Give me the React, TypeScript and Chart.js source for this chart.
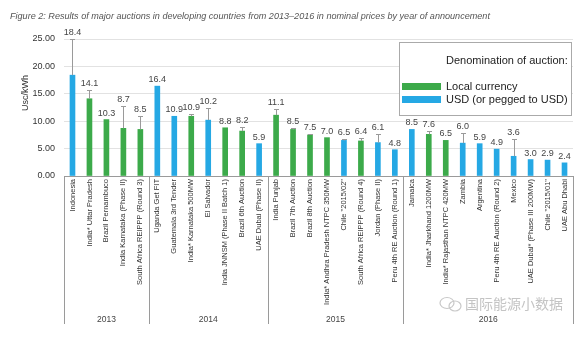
import React, { useEffect, useRef } from 'react';
import { Chart, registerables } from 'chart.js';

Chart.register(...registerables);

const TITLE =
  'Figure 2: Results of major auctions in developing countries from 2013\u20132016 in nominal prices by year of announcement';
const Y_TITLE = 'Usc/kWh';
const WATERMARK = '国际能源小数据';

const categories = [
  'Indonesia',
  'India* Uttar Pradesh',
  'Brazil Pernambuco',
  'India Karnataka (Phase II)',
  'South Africa REIPPP (Round 3)',
  'Uganda Get FIT',
  'Guatemala 3rd Tender',
  'India* Karnataka 500MW',
  'El Salvador',
  'India JNNSM (Phase II Batch 1)',
  'Brazil 6th Auction',
  'UAE Dubai (Phase II)',
  'India Punjab',
  'Brazil 7th Auction',
  'Brazil 8th Auction',
  'India* Andhra Pradesh NTPC 350MW',
  'Chile "2015/02"',
  'South Africa REIPPP (Round 4)',
  'Jordan (Phase II)',
  'Peru 4th RE Auction (Round 1)',
  'Jamaica',
  'India* Jharkhand 1200MW',
  'India* Rajasthan NTPC 420MW',
  'Zambia',
  'Argentina',
  'Peru 4th RE Auction (Round 2)',
  'Mexico',
  'UAE Dubai* (Phase III 200MW)',
  'Chile "2015/01"',
  'UAE Abu Dhabi',
];

const values = [
  18.4, 14.1, 10.3, 8.7, 8.5,
  16.4, 10.9, 10.9, 10.2, 8.8, 8.2, 5.9,
  11.1, 8.5, 7.5, 7.0, 6.5, 6.4, 6.1, 4.8,
  8.5, 7.6, 6.5, 6.0, 5.9, 4.9, 3.6, 3.0, 2.9, 2.4,
];

const errorHighs: (number | null)[] = [
  25.0, 15.7, null, 12.7, 10.9,
  null, null, 11.4, 12.4, null, 9.0, null,
  12.3, 8.8, 7.7, null, 6.7, 6.9, 7.6, null,
  null, 8.3, null, 7.8, null, null, 6.7, null, null, null,
];

// L = local currency, U = USD (or pegged to USD)
const denominations = [
  'U', 'L', 'L', 'L', 'L',
  'U', 'U', 'L', 'U', 'L', 'L', 'U',
  'L', 'L', 'L', 'L', 'U', 'L', 'U', 'U',
  'U', 'L', 'L', 'U', 'U', 'U', 'U', 'U', 'U', 'U',
];

const years = ['2013', '2014', '2015', '2016'];
const yearCounts = [5, 7, 8, 10];

const legendTitle = 'Denomination of auction:';
const legendLabels = ['Local currency', 'USD (or pegged to USD)'];

const yMin = 0;
const yMax = 25;
const yStep = 5;

const GREEN = '#3caa4a';
const BLUE = '#25a8e4';
const colorFor = (d: string) => (d === 'L' ? GREEN : BLUE);

const overlayPlugin = {
  id: 'overlay',
  afterDatasetsDraw(chart: any) {
    const ctx = chart.ctx;
    const xs = chart.scales.x;
    const ys = chart.scales.y;
    ctx.save();
    // error bars
    ctx.strokeStyle = '#9a9a9a';
    ctx.lineWidth = 1;
    errorHighs.forEach((e, i) => {
      if (e == null) return;
      const x = Math.round(xs.getPixelForValue(i)) + 0.5;
      const y0 = ys.getPixelForValue(values[i]);
      const y1 = Math.round(ys.getPixelForValue(e)) + 0.5;
      ctx.beginPath();
      ctx.moveTo(x, y0);
      ctx.lineTo(x, y1);
      ctx.moveTo(x - 2.5, y1);
      ctx.lineTo(x + 2.5, y1);
      ctx.stroke();
    });
    // value labels
    ctx.fillStyle = '#444';
    ctx.font = '9px "Liberation Sans", Arial, sans-serif';
    ctx.textAlign = 'center';
    ctx.textBaseline = 'middle';
    values.forEach((v, i) => {
      const top = Math.max(v, errorHighs[i] ?? v);
      const x = xs.getPixelForValue(i);
      const y = ys.getPixelForValue(top) - 6.5;
      ctx.fillText(v.toFixed(1), x, y);
    });
    ctx.restore();
  },
  afterDraw(chart: any) {
    const ctx = chart.ctx;
    const xs = chart.scales.x;
    const area = chart.chartArea;
    ctx.save();

    // group separators and year labels
    const n = categories.length;
    const step = (xs.right - xs.left) / n;
    const yTop = area.bottom;
    const yBot = area.bottom + 148;
    ctx.strokeStyle = '#9a9a9a';
    ctx.lineWidth = 1;
    let start = 0;
    const bounds: number[] = [xs.left];
    yearCounts.forEach((c) => {
      start += c;
      bounds.push(xs.left + step * start);
    });
    bounds.forEach((bx) => {
      const x = Math.round(bx) + 0.5;
      ctx.beginPath();
      ctx.moveTo(x, yTop);
      ctx.lineTo(x, yBot);
      ctx.stroke();
    });
    ctx.fillStyle = '#444';
    ctx.font = '8.5px "Liberation Sans", Arial, sans-serif';
    ctx.textAlign = 'center';
    ctx.textBaseline = 'middle';
    years.forEach((yr, k) => {
      ctx.fillText(yr, (bounds[k] + bounds[k + 1]) / 2, area.bottom + 144);
    });

    // title
    ctx.fillStyle = '#555';
    ctx.textAlign = 'left';
    ctx.textBaseline = 'middle';
    let fs = 11;
    ctx.font = `italic ${fs}px "Liberation Sans", Arial, sans-serif`;
    const w = ctx.measureText(TITLE).width;
    fs = (fs * 480) / w;
    ctx.font = `italic ${fs}px "Liberation Sans", Arial, sans-serif`;
    ctx.fillText(TITLE, 10, 16);

    // y title
    ctx.save();
    ctx.translate(26, 93);
    ctx.rotate(-Math.PI / 2);
    ctx.fillStyle = '#333';
    ctx.font = '9px "Liberation Sans", Arial, sans-serif';
    ctx.textAlign = 'center';
    ctx.textBaseline = 'middle';
    ctx.fillText(Y_TITLE, 0, 0);
    ctx.restore();

    // legend box
    const lx = 399.5;
    const ly = 42.5;
    const lw = 172;
    const lh = 73;
    ctx.fillStyle = '#fff';
    ctx.fillRect(lx, ly, lw, lh);
    ctx.strokeStyle = '#aaa';
    ctx.strokeRect(lx, ly, lw, lh);
    ctx.fillStyle = '#222';
    ctx.font = '11px "Liberation Sans", Arial, sans-serif';
    ctx.textAlign = 'left';
    ctx.textBaseline = 'middle';
    ctx.fillText(legendTitle, 446, 61);
    ctx.fillStyle = GREEN;
    ctx.fillRect(402, 83, 39, 7);
    ctx.fillStyle = BLUE;
    ctx.fillRect(402, 96, 39, 7);
    ctx.fillStyle = '#222';
    ctx.fillText(legendLabels[0], 446, 87);
    ctx.fillText(legendLabels[1], 446, 100);

    // watermark
    ctx.strokeStyle = '#c8c8c8';
    ctx.lineWidth = 1.2;
    ctx.beginPath();
    ctx.ellipse(447, 303, 7, 5.5, 0, 0, Math.PI * 2);
    ctx.stroke();
    ctx.beginPath();
    ctx.ellipse(455, 306, 6, 5, 0, 0, Math.PI * 2);
    ctx.stroke();
    ctx.fillStyle = '#c4c4c4';
    ctx.font = '14px "Noto Sans CJK SC", sans-serif';
    ctx.textAlign = 'left';
    ctx.fillText(WATERMARK, 465, 304);

    ctx.restore();
  },
};

export default function App() {
  const ref = useRef<HTMLCanvasElement | null>(null);
  useEffect(() => {
    if (!ref.current) return;
    const chart = new Chart(ref.current, {
      type: 'bar',
      data: {
        labels: categories,
        datasets: [
          {
            data: values,
            backgroundColor: denominations.map(colorFor),
            barThickness: 5,
          },
        ],
      },
      options: {
        animation: false,
        responsive: true,
        maintainAspectRatio: false,
        devicePixelRatio: 1,
        layout: { padding: { top: 39, right: 7, left: 0, bottom: 0 } },
        plugins: {
          legend: { display: false },
          tooltip: { enabled: false },
          title: { display: false },
        },
        scales: {
          x: {
            afterFit: (s: any) => {
              s.height = 177;
            },
            grid: { display: true, drawOnChartArea: false, drawTicks: false },
            border: { display: true, color: '#9a9a9a', width: 1 },
            ticks: {
              autoSkip: false,
              maxRotation: 90,
              minRotation: 90,
              padding: 3,
              color: '#333',
              font: { family: '"Liberation Sans", Arial, sans-serif', size: 7.5 },
            },
          },
          y: {
            min: yMin,
            max: yMax,
            afterFit: (s: any) => {
              s.width = 64;
            },
            grid: { color: '#e2e2e2', drawTicks: false },
            border: { display: false },
            ticks: {
              stepSize: yStep,
              padding: 9,
              color: '#333',
              font: { family: '"Liberation Sans", Arial, sans-serif', size: 9 },
              callback: (v: any) => Number(v).toFixed(2),
            },
          },
        },
      },
      plugins: [overlayPlugin],
    });
    return () => chart.destroy();
  }, []);
  return (
    <div style={{ position: 'absolute', left: 0, top: 0, width: 580, height: 353, background: '#fff' }}>
      <canvas ref={ref} />
    </div>
  );
}
